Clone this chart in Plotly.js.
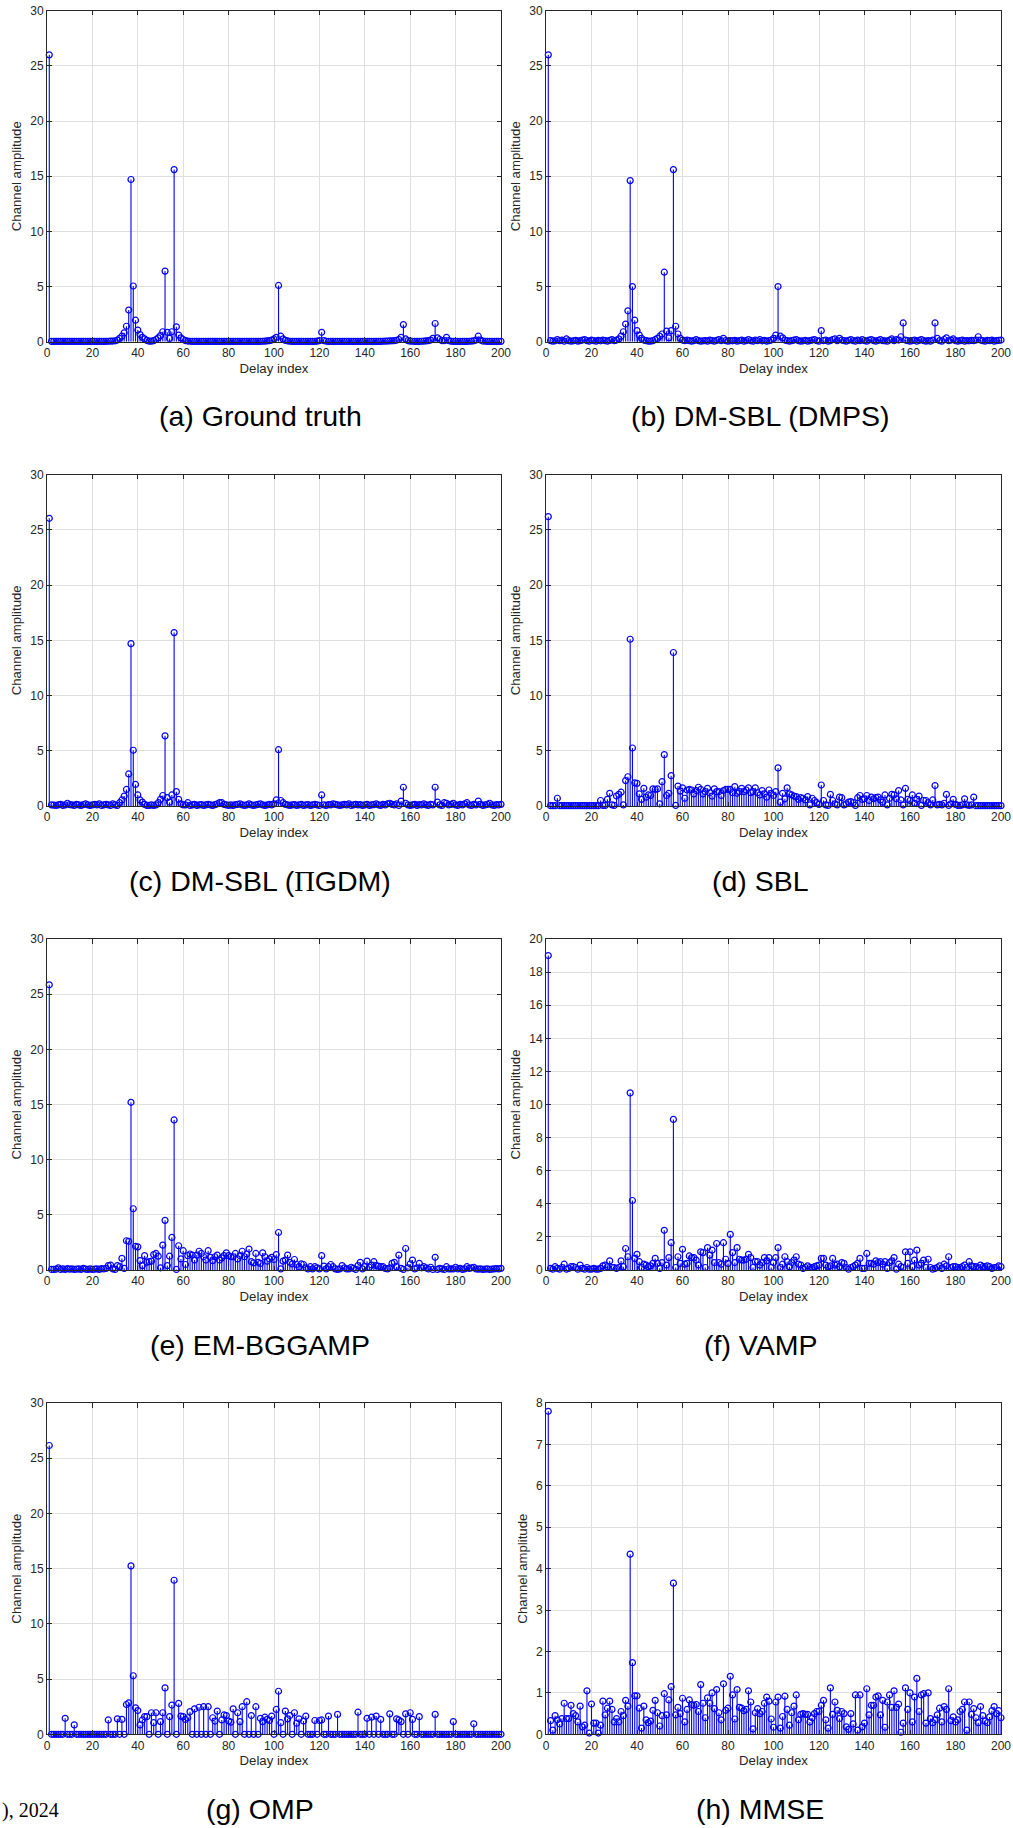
<!DOCTYPE html>
<html>
<head>
<meta charset="utf-8">
<script src="https://cdn.plot.ly/plotly-3.0.1.min.js"></script>
<style>
html, body { margin: 0; padding: 0; background: #ffffff; }
#chart { width: 1013px; height: 1828px; }
</style>
</head>
<body>
<div id="chart"></div>
<script>
// ---------------- DATA ----------------
const delayIndex = Array.from({length: 200}, (_, i) => i + 1);

const groundTruth = [
  26.0,0.03,0.03,0.03,0.03,0.03,0.03,0.03,0.03,0.03,
  0.03,0.03,0.03,0.03,0.03,0.03,0.03,0.03,0.03,0.03,
  0.03,0.03,0.03,0.03,0.03,0.03,0.04,0.05,0.06,0.08,
  0.15,0.3,0.5,0.8,1.4,2.87,14.7,5.05,1.95,1.05,
  0.65,0.4,0.25,0.12,0.05,0.05,0.1,0.2,0.35,0.55,
  0.9,6.4,0.85,0.3,0.9,15.6,1.35,0.6,0.35,0.2,
  0.1,0.06,0.04,0.03,0.03,0.03,0.03,0.03,0.03,0.03,
  0.03,0.03,0.03,0.03,0.03,0.03,0.03,0.03,0.03,0.03,
  0.03,0.03,0.03,0.03,0.03,0.03,0.03,0.03,0.03,0.03,
  0.03,0.03,0.03,0.03,0.04,0.05,0.07,0.1,0.15,0.25,
  0.4,5.1,0.5,0.25,0.12,0.07,0.04,0.03,0.03,0.03,
  0.03,0.03,0.03,0.03,0.03,0.03,0.03,0.03,0.05,0.1,
  0.85,0.1,0.04,0.03,0.03,0.03,0.03,0.03,0.03,0.03,
  0.03,0.03,0.03,0.03,0.03,0.03,0.03,0.03,0.03,0.03,
  0.03,0.03,0.03,0.03,0.03,0.03,0.03,0.04,0.05,0.06,
  0.07,0.08,0.1,0.13,0.2,0.4,1.55,0.25,0.1,0.05,
  0.04,0.03,0.03,0.03,0.04,0.05,0.07,0.1,0.15,0.3,
  1.65,0.35,0.2,0.1,0.1,0.4,0.1,0.04,0.03,0.03,
  0.03,0.03,0.03,0.03,0.03,0.04,0.05,0.08,0.15,0.5,
  0.15,0.06,0.04,0.03,0.03,0.03,0.03,0.03,0.03,0.03
];

const dmsblDMPS = [
  26.0,0.1,0.05,0.08,0.2,0.1,0.15,0.05,0.25,0.1,
  0.05,0.08,0.12,0.05,0.1,0.15,0.2,0.1,0.05,0.15,
  0.1,0.05,0.12,0.08,0.15,0.1,0.05,0.12,0.2,0.1,
  0.15,0.25,0.5,0.9,1.6,2.8,14.6,5.0,1.95,1.0,
  0.6,0.3,0.15,0.1,0.05,0.05,0.1,0.2,0.3,0.5,
  0.7,6.3,0.95,0.35,1.0,15.6,1.4,0.7,0.3,0.15,
  0.1,0.15,0.1,0.05,0.1,0.2,0.1,0.05,0.08,0.1,
  0.05,0.15,0.1,0.05,0.12,0.2,0.1,0.3,0.1,0.05,
  0.1,0.08,0.12,0.05,0.1,0.15,0.05,0.1,0.2,0.1,
  0.05,0.15,0.1,0.2,0.08,0.12,0.05,0.1,0.15,0.3,
  0.6,5.0,0.5,0.35,0.15,0.1,0.05,0.1,0.15,0.2,
  0.1,0.05,0.08,0.12,0.05,0.1,0.15,0.2,0.1,0.05,
  1.0,0.1,0.15,0.05,0.1,0.2,0.25,0.1,0.3,0.15,
  0.1,0.05,0.12,0.2,0.1,0.05,0.15,0.1,0.2,0.1,
  0.05,0.15,0.2,0.1,0.05,0.12,0.2,0.1,0.08,0.05,
  0.15,0.25,0.1,0.2,0.15,0.45,1.7,0.15,0.1,0.05,
  0.1,0.15,0.05,0.12,0.2,0.1,0.05,0.1,0.05,0.15,
  1.7,0.3,0.1,0.05,0.2,0.35,0.1,0.15,0.25,0.1,
  0.05,0.1,0.15,0.05,0.1,0.08,0.12,0.1,0.15,0.45,
  0.15,0.1,0.05,0.12,0.1,0.15,0.05,0.1,0.12,0.15
];

const dmsblPiGDM = [
  26.05,0.1,0.08,0.05,0.1,0.15,0.05,0.1,0.25,0.12,
  0.1,0.05,0.15,0.1,0.05,0.12,0.2,0.1,0.05,0.1,
  0.15,0.1,0.2,0.05,0.1,0.15,0.1,0.05,0.2,0.1,
  0.05,0.3,0.55,0.9,1.5,2.9,14.7,5.05,1.95,1.0,
  0.55,0.35,0.15,0.05,0.05,0.1,0.05,0.1,0.3,0.6,
  0.95,6.35,0.75,0.35,1.0,15.7,1.3,0.6,0.2,0.1,
  0.1,0.3,0.05,0.1,0.15,0.05,0.1,0.12,0.05,0.1,
  0.15,0.1,0.05,0.12,0.2,0.3,0.3,0.15,0.1,0.05,
  0.1,0.05,0.12,0.15,0.2,0.1,0.05,0.1,0.2,0.1,
  0.05,0.1,0.15,0.2,0.1,0.05,0.1,0.15,0.1,0.2,
  0.55,5.1,0.5,0.3,0.15,0.1,0.05,0.1,0.12,0.05,
  0.1,0.15,0.05,0.1,0.12,0.05,0.1,0.15,0.1,0.05,
  1.0,0.1,0.05,0.12,0.1,0.2,0.15,0.1,0.05,0.1,
  0.15,0.1,0.2,0.05,0.1,0.15,0.1,0.12,0.05,0.1,
  0.15,0.05,0.1,0.12,0.2,0.1,0.05,0.15,0.1,0.2,
  0.25,0.15,0.1,0.2,0.05,0.45,1.7,0.25,0.1,0.05,
  0.1,0.15,0.05,0.12,0.1,0.2,0.1,0.05,0.15,0.1,
  1.7,0.35,0.1,0.05,0.3,0.25,0.1,0.15,0.25,0.1,
  0.05,0.15,0.1,0.2,0.3,0.1,0.05,0.15,0.1,0.45,
  0.15,0.05,0.1,0.15,0.25,0.1,0.05,0.12,0.1,0.15
];

const sbl = [
  26.2,0.03,0.03,0.03,0.7,0.03,0.03,0.03,0.03,0.03,
  0.03,0.03,0.03,0.03,0.03,0.03,0.03,0.03,0.03,0.03,
  0.03,0.03,0.03,0.5,0.05,0.05,0.6,1.15,0.1,0.05,
  0.9,1.05,1.25,0.1,2.3,2.65,15.1,5.25,2.1,2.05,
  1.1,0.6,1.6,0.8,1.0,0.95,1.55,1.5,1.55,0.2,
  2.2,4.65,0.95,1.15,2.75,13.9,0.05,1.8,1.35,1.65,
  0.7,1.45,1.5,1.45,1.1,1.4,1.7,1.5,1.1,1.3,
  1.6,1.2,0.9,1.55,1.3,1.3,0.95,1.4,1.5,1.5,
  1.5,1.2,1.75,1.15,1.3,1.6,1.3,1.45,1.65,1.2,
  1.3,1.65,1.2,1.0,1.4,1.1,0.8,1.45,1.15,0.95,
  1.3,3.45,0.35,1.15,0.65,1.65,1.1,1.0,0.9,0.85,
  0.6,0.75,0.7,0.55,0.85,0.1,0.7,0.5,0.3,0.15,
  1.9,0.5,0.1,0.05,1.05,0.5,0.2,0.1,0.8,0.75,
  0.1,0.2,0.35,0.4,0.3,0.05,0.75,0.95,0.6,0.65,
  0.95,0.5,0.8,0.65,0.75,0.8,0.55,0.35,1.0,0.1,
  0.7,1.05,1.0,0.65,1.4,0.55,0.1,1.6,0.6,0.5,
  1.0,0.25,0.6,0.9,0.05,0.5,0.5,0.3,0.1,0.55,
  1.85,0.1,0.15,0.1,0.25,1.05,0.05,0.2,0.6,0.15,
  0.05,0.05,0.1,0.65,0.1,0.05,0.1,0.8,0.03,0.03,
  0.03,0.03,0.03,0.03,0.03,0.03,0.03,0.03,0.03,0.03
];

const emBGGAMP = [
  25.85,0.05,0.05,0.08,0.2,0.05,0.1,0.05,0.12,0.08,
  0.1,0.05,0.08,0.1,0.05,0.15,0.08,0.05,0.1,0.05,
  0.08,0.1,0.05,0.12,0.1,0.15,0.4,0.45,0.1,0.05,
  0.4,0.3,1.05,0.15,2.65,2.6,15.2,5.55,2.15,2.1,
  0.85,0.4,1.3,0.7,0.75,0.8,1.4,1.5,1.25,0.2,
  2.25,4.5,0.4,1.25,2.95,13.6,0.05,2.2,1.0,1.75,
  0.5,1.3,1.45,1.35,0.9,1.35,1.7,1.5,1.2,0.9,
  1.75,1.15,0.85,1.2,1.35,0.9,1.1,1.3,1.55,1.3,
  1.2,1.2,1.5,1.0,1.3,1.7,1.2,1.45,1.9,0.75,
  0.65,1.5,0.7,0.6,1.55,1.2,0.8,1.0,1.15,0.95,
  1.4,3.4,0.1,0.8,0.9,1.35,0.7,0.55,0.95,0.5,
  0.3,0.55,0.5,0.2,0.1,0.3,0.1,0.3,0.2,0.1,
  1.3,0.35,0.1,0.3,0.5,0.3,0.1,0.05,0.1,0.4,
  0.2,0.1,0.1,0.25,0.15,0.05,0.4,0.7,0.1,0.3,
  0.8,0.25,0.45,0.75,0.4,0.35,0.3,0.3,0.15,0.1,
  0.2,0.6,0.7,0.3,1.35,0.15,0.05,1.95,0.2,0.55,
  0.9,0.1,0.2,0.6,0.2,0.3,0.2,0.1,0.25,0.05,
  1.15,0.05,0.15,0.1,0.05,0.3,0.1,0.1,0.1,0.25,
  0.1,0.15,0.05,0.1,0.3,0.15,0.2,0.25,0.1,0.08,
  0.1,0.05,0.08,0.1,0.05,0.08,0.1,0.12,0.1,0.15
];

const vamp = [
  19.0,0.1,0.05,0.2,0.1,0.05,0.15,0.35,0.05,0.1,
  0.2,0.2,0.15,0.05,0.3,0.1,0.05,0.15,0.05,0.05,
  0.1,0.05,0.05,0.1,0.25,0.3,0.2,0.55,0.15,0.15,
  0.1,0.15,0.55,0.2,1.3,0.8,10.7,4.2,0.7,0.95,
  0.5,0.15,0.35,0.3,0.2,0.25,0.4,0.7,0.4,0.1,
  0.45,2.4,0.3,0.75,1.65,9.1,0.15,0.8,0.4,1.25,
  0.35,0.4,0.85,0.75,0.75,0.6,0.3,1.1,1.05,0.15,
  1.35,0.9,1.2,0.45,1.6,0.45,0.35,1.65,0.65,0.4,
  2.15,1.05,0.45,1.35,0.65,0.6,0.6,0.65,0.95,0.75,
  0.15,0.5,0.5,0.3,0.45,0.75,0.55,0.75,0.15,0.45,
  0.75,1.35,0.15,0.35,0.8,0.5,0.2,0.45,0.6,0.8,
  0.35,0.3,0.1,0.15,0.25,0.15,0.15,0.2,0.25,0.3,
  0.7,0.7,0.3,0.2,0.25,0.7,0.3,0.35,0.2,0.45,
  0.4,0.15,0.05,0.15,0.2,0.3,0.4,0.7,0.1,0.1,
  1.0,0.4,0.4,0.35,0.55,0.45,0.5,0.35,0.5,0.1,
  0.45,0.55,0.75,0.05,0.35,0.2,0.15,1.1,0.4,1.1,
  0.2,0.6,1.2,0.3,0.4,0.6,0.15,0.65,0.15,0.05,
  0.1,0.15,0.25,0.1,0.35,0.25,0.8,0.15,0.2,0.2,
  0.15,0.15,0.2,0.3,0.15,0.5,0.25,0.2,0.2,0.15,
  0.3,0.2,0.2,0.25,0.2,0.1,0.15,0.15,0.25,0.2
];

const omp = [
  26.15,0,0,0,0,0,0,1.45,0,0,
  0,0.85,0,0,0,0,0,0,0,0,
  0,0,0,0,0,0,1.3,0,0,0,
  1.4,0,1.35,0,2.7,2.85,15.25,5.3,2.4,2.15,
  0.85,1.3,1.6,1.6,0,1.95,1.05,1.95,0,1.15,
  1.95,4.2,0,1.6,2.65,13.95,0,2.8,1.65,1.6,
  1.35,1.5,2.05,0,2.3,0,2.45,0,2.5,0,
  2.5,0,1.5,1.2,2.1,0,1.3,1.75,1.7,1.2,
  1.1,2.3,0,1.95,1.15,2.5,0,2.95,0,1.7,
  0,2.5,0,1.45,1.15,1.55,1.35,1.25,1.65,0,
  2.25,3.9,1.05,0,2.1,1.4,1.7,0,1.95,1.0,
  1.4,0,1.2,1.65,0,0,0,1.25,0,1.25,
  1.3,0,0,1.65,0,0,0,1.8,0,0,
  0,0,0,0,0,0,2.0,0,0,0,
  1.45,0,1.55,0,1.65,0,1.35,0,0,0,
  1.85,0,0,1.4,1.3,1.15,0,1.85,0,1.95,
  1.35,0,0,1.6,0,0,0,0,0,0,
  1.8,0,0,0,0,0,0,0,1.15,0,
  0,0,0,0,0,0,0,0.95,0,0,
  0,0,0,0,0,0,0,0,0,0
];

const mmse = [
  7.8,0.33,0.1,0.45,0.35,0.25,0.38,0.75,0.38,0.38,
  0.7,0.5,0.45,0.3,0.68,0.18,0.22,1.05,0.03,0.73,
  0.27,0.27,0.03,0.22,0.8,0.47,0.63,0.8,0.6,0.3,
  0.38,0.3,0.55,0.45,0.82,0.68,4.35,1.73,0.93,0.93,
  0.63,0.15,0.68,0.35,0.28,0.32,0.58,0.82,0.52,0.2,
  0.45,0.98,0.47,0.83,1.15,3.65,0.47,0.65,0.5,0.87,
  0.3,0.6,0.83,0.72,0.7,0.72,0.55,1.2,0.75,0.4,
  0.88,0.75,1.0,0.62,1.08,0.52,0.35,1.22,0.58,0.63,
  1.4,0.95,0.37,1.08,0.65,0.63,0.57,0.6,1.05,0.78,
  0.13,0.52,0.62,0.5,0.55,0.75,0.9,0.8,0.37,0.17,
  0.78,0.9,0.15,0.43,0.92,0.6,0.22,0.52,0.68,0.95,
  0.35,0.48,0.5,0.48,0.48,0.3,0.4,0.5,0.55,0.55,
  0.7,0.82,0.35,0.15,1.12,0.48,0.78,0.58,0.38,0.55,
  0.5,0.18,0.12,0.5,0.25,0.95,0.1,0.95,0.18,0.27,
  1.1,0.47,0.7,0.7,0.9,0.93,0.47,0.82,0.17,0.78,
  0.95,0.65,1.05,0.65,0.73,0.05,0.27,1.12,0.6,1.0,
  0.3,0.9,1.35,0.55,0.95,0.98,0.27,1.0,0.38,0.28,
  0.35,0.47,0.63,0.3,0.67,0.6,1.1,0.33,0.42,0.3,
  0.35,0.55,0.6,0.78,0.1,0.78,0.48,0.62,0.4,0.28,
  0.67,0.45,0.32,0.28,0.42,0.57,0.67,0.5,0.57,0.4
];

const panelCaptions = [
  '(a) Ground truth', '(b) DM-SBL (DMPS)',
  '(c) DM-SBL (<span style="font-family:\'Liberation Serif\',serif">\u03A0</span>GDM)', '(d) SBL',
  '(e) EM-BGGAMP', '(f) VAMP',
  '(g) OMP', '(h) MMSE'
];
const panelSeries = [groundTruth, dmsblDMPS, dmsblPiGDM, sbl, emBGGAMP, vamp, omp, mmse];
const panelYMax = [30, 30, 30, 30, 30, 20, 30, 8];
const panelYStep = [5, 5, 5, 5, 5, 2, 5, 1];
const xTitle = 'Delay index';
const yTitle = 'Channel amplitude';
const footerText = '), 2024';

// ---------------- LAYOUT ----------------
const W = 1013, H = 1828;
const colX = [[47, 501], [546, 1001]];
const rowY = [[10.7, 341.7], [474.7, 806], [939, 1270], [1403, 1734.3]];
const capX = [260, 760];
const capOffset = 74.7;

const FONT = 'Liberation Sans, Arial, Helvetica, sans-serif';
const AXC = '#262626';
const BLUE = '#0000ff';

const traces = [];
const layout = {
  width: W, height: H,
  margin: {l: 0, r: 0, t: 0, b: 0},
  paper_bgcolor: '#ffffff',
  plot_bgcolor: '#ffffff',
  showlegend: false,
  font: {family: FONT, color: AXC},
  annotations: []
};

panelSeries.forEach((vals, k) => {
  const col = k % 2, row = Math.floor(k / 2);
  const s = k === 0 ? '' : String(k + 1);
  const xa = 'x' + s, ya = 'y' + s;

  const sx = [], sy = [];
  delayIndex.forEach((d, i) => { sx.push(d, d, null); sy.push(0, vals[i], null); });

  traces.push({
    type: 'scatter', mode: 'lines', x: sx, y: sy, xaxis: xa, yaxis: ya,
    line: {color: BLUE, width: 1.1}, hoverinfo: 'skip'
  });
  traces.push({
    type: 'scatter', mode: 'markers', x: delayIndex, y: vals, xaxis: xa, yaxis: ya,
    marker: {symbol: 'circle-open', size: 6, color: BLUE, line: {width: 1.2, color: BLUE}},
    cliponaxis: false
  });

  const common = {
    ticks: 'inside', ticklen: 4.5, tickwidth: 1, tickcolor: AXC,
    showline: true, linecolor: AXC, linewidth: 1, mirror: 'ticks',
    showgrid: true, gridcolor: '#dfdfdf', gridwidth: 1,
    zeroline: false, fixedrange: true,
    tickfont: {family: FONT, size: 12, color: AXC}
  };
  layout['xaxis' + s] = Object.assign({}, common, {
    domain: [colX[col][0] / W, colX[col][1] / W], anchor: ya,
    range: [0, 200], tickmode: 'linear', tick0: 0, dtick: 20,
    title: {text: xTitle, font: {family: FONT, size: 13.2, color: AXC}, standoff: 4}
  });
  layout['yaxis' + s] = Object.assign({}, common, {
    domain: [1 - rowY[row][1] / H, 1 - rowY[row][0] / H], anchor: xa,
    range: [0, panelYMax[k]], tickmode: 'linear', tick0: 0, dtick: panelYStep[k],
    title: {text: yTitle, font: {family: FONT, size: 13.2, color: AXC}, standoff: 5}
  });

  layout.annotations.push({
    xref: 'paper', yref: 'paper',
    x: capX[col] / W, y: 1 - (rowY[row][1] + capOffset) / H,
    xanchor: 'center', yanchor: 'middle', showarrow: false,
    text: panelCaptions[k],
    font: {family: FONT, size: 28.5, color: '#000000'}
  });
});

// page footer fragment visible at bottom-left
layout.annotations.push({
  xref: 'paper', yref: 'paper', x: 0, y: 1 - 1810 / H,
  xanchor: 'left', yanchor: 'middle', showarrow: false,
  text: footerText,
  font: {family: 'Liberation Serif, Times New Roman, serif', size: 20, color: '#000000'}
});

Plotly.newPlot('chart', traces, layout, {staticPlot: true, displayModeBar: false});
</script>
</body>
</html>
